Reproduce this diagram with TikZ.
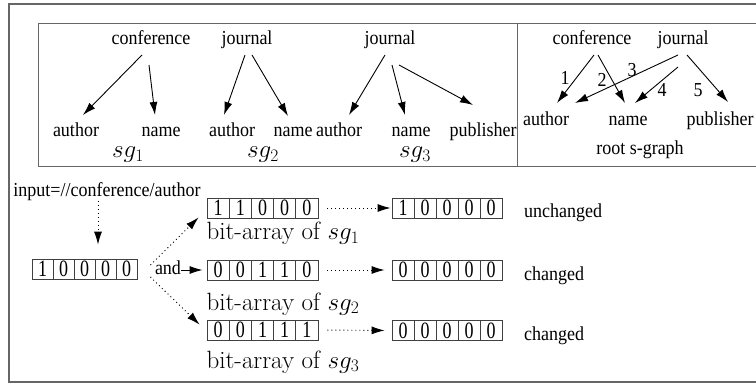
\RequirePackage{fix-cm}
\documentclass[tikz,border=0pt]{standalone}
\usepackage{fontspec}
\newfontfamily\tms{Liberation Serif}
\usetikzlibrary{arrows.meta,calc}
\newsavebox\stretchbox
\tikzset{
  vstretch/.style={execute at begin node={\begin{lrbox}{\stretchbox}},
    execute at end node={\end{lrbox}\scalebox{1}[1.1]{\usebox\stretchbox}}},
  tx/.style={inner sep=0pt, anchor=base, font=\tms\fontsize{18}{20}\selectfont, vstretch},
  mt/.style={inner sep=0pt, anchor=base, font=\fontsize{25}{28}\selectfont},
  sgl/.style={mt, text height=11pt},
  arr/.style={line width=0.9pt, -{Latex[length=13pt,width=8pt]}},
  darr/.style={arr, dash pattern=on 1pt off 3pt},
  cell/.style={draw=black!75, line width=0.8pt, minimum height=20pt, inner sep=0pt,
    font=\tms\fontsize{18}{20}\selectfont},
  frame/.style={draw=black!60, line width=1.5pt},
  inbox/.style={draw=black!60, line width=1pt},
}
\newcommand\bitrow[5]{\foreach \d [count=\i] in {#5} {\node[cell, minimum width=#4pt] (#1-\i) at ({#2+(\i-0.5)*#4}, #3) {\raisebox{-1.5pt}{\scalebox{1}[1.3]{\d}}};}}
\begin{document}
\begin{tikzpicture}[x=1pt,y=-1pt]
\clip (0,0) rectangle (756,385);
\draw[frame] (9,4) rectangle (800,382);
\draw[inbox] (38,24) rectangle (800,167) (517,24) -- (517,167);

% s-graph sg1
\node[tx] (c1) at (151,45) {conference};
\node[tx] (a1) at (76,137) {author};
\node[tx] (n1) at (161,137) {name};
\node[sgl] (g1) at (128,158) {$sg_1$};
\draw[arr] ($(c1.base)+(-9,10)$) -- ($(a1.base)+(7,-22)$);
\draw[arr] ($(c1.base)+(-2,20)$) -- ($(n1.base)+(-6,-22)$);

% s-graph sg2
\node[tx] (j2) at (247,45) {journal};
\node[tx] (a2) at (232,137) {author};
\node[tx] (n2) at (293,137) {name};
\node[sgl] (g2) at (263,158) {$sg_2$};
\draw[arr] ($(j2.base)+(-2,10)$) -- ($(a2.base)+(-8,-22)$);
\draw[arr] ($(j2.base)+(5,10)$) -- ($(n2.base)+(-5,-21)$);

% s-graph sg3
\node[tx] (j3) at (390,45) {journal};
\node[tx] (a3) at (339,137) {author};
\node[tx] (n3) at (411,137) {name};
\node[tx] (p3) at (483,137) {publisher};
\node[sgl] (g3) at (415,158) {$sg_3$};
\draw[arr] ($(j3.base)+(-5,10)$) -- ($(a3.base)+(10,-22)$);
\draw[arr] ($(j3.base)+(2,20)$) -- ($(n3.base)+(-6,-22)$);
\draw[arr] ($(j3.base)+(9,20)$) -- ($(p3.base)+(-10,-32)$);

% root s-graph
\node[tx] (rc) at (592,45) {conference};
\node[tx] (rj) at (683,45) {journal};
\node[tx] (ra) at (546,126) {author};
\node[tx] (rn) at (628,126) {name};
\node[tx] (rp) at (720,126) {publisher};
\node[tx] (rl) at (640,155) {root s-graph};
\draw[arr] ($(rc.base)+(2,10)$) -- ($(ra.base)+(11,-23)$);
\draw[arr] ($(rc.base)+(6,10)$) -- ($(rn.base)+(-3,-23)$);
\draw[arr] ($(rj.base)+(-5,10)$) -- ($(ra.base)+(29,-23)$);
\draw[arr] ($(rj.base)+(-5,22)$) -- ($(rn.base)+(7,-23)$);
\draw[arr] ($(rj.base)+(4,10)$) -- ($(rp.base)+(8,-24)$);
\node[tx, anchor=center] (e1) at (565,78) {1};
\node[tx, anchor=center] (e2) at (602,80) {2};
\node[tx, anchor=center] (e3) at (632,70) {3};
\node[tx, anchor=center] (e4) at (662,90) {4};
\node[tx, anchor=center] (e5) at (698,90) {5};

% bit arrays
\node[tx] (inp) at (107,197) {input=//conference/author};
\node[tx] (and) at (168,275) {and};
\bitrow{A0}{32}{269}{21}{1,0,0,0,0}
\bitrow{S1}{207}{208}{22.2}{1,1,0,0,0}
\bitrow{S2}{207}{270}{22.2}{0,0,1,1,0}
\bitrow{S3}{207}{330}{22.2}{0,0,1,1,1}
\bitrow{R1}{392}{208}{22}{1,0,0,0,0}
\bitrow{R2}{392}{270}{22}{0,0,0,0,0}
\bitrow{R3}{392}{330.5}{22}{0,0,0,0,0}
\node[mt] (L1) at (283,240) {bit-array of $sg_1$};
\node[mt] (L2) at (283,310) {bit-array of $sg_2$};
\node[mt] (L3) at (283,368) {bit-array of $sg_3$};
\node[tx, anchor=base west] (U1) at (524,218) {unchanged};
\node[tx, anchor=base west] (C2) at (524,280) {changed};
\node[tx, anchor=base west] (C3) at (524,341) {changed};

\draw[darr] ($(inp.base)+(-9,4)$) -- ($(A0-4.north)+(-7.5,-14)$);
\draw[darr] ($(A0-5.east)+(13,-4)$) -- ($(S1-1.south west)+(-8,-1)$);
\draw[darr] ($(A0-5.east)+(13,8)$) -- ($(S3-1.north west)+(-7,5)$);
\draw[arr, shorten >=4pt] (and.east |- S2-1.west) -- (S2-1.west);
\draw[darr, shorten <=9pt, shorten >=1pt] (S1-5.east) -- (R1-1.west);
\draw[darr, shorten <=9pt, shorten >=7pt] (S2-5.east) -- (R2-1.west);
\draw[darr, shorten <=9pt, shorten >=7pt] (S3-5.east) -- (R3-1.west);
\end{tikzpicture}
\end{document}
